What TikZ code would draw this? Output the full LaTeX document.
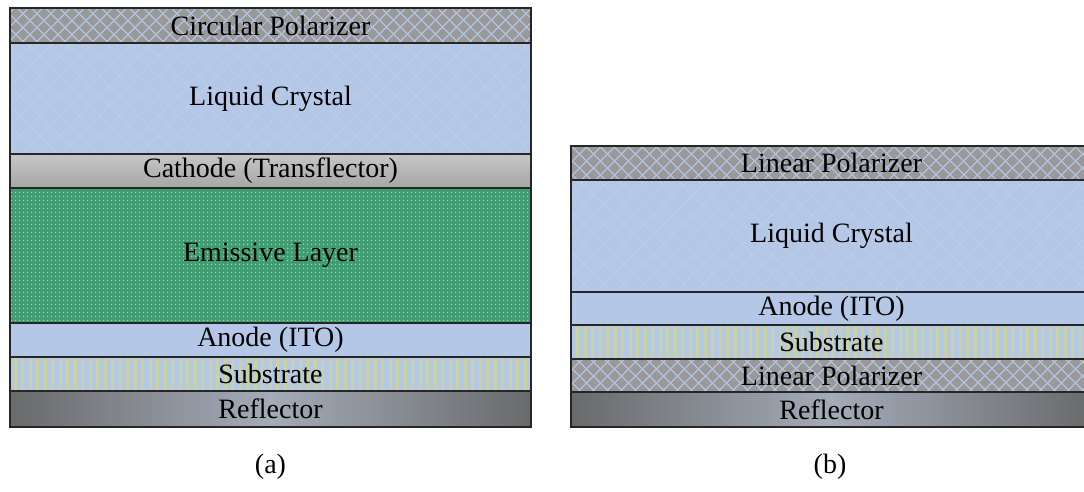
\documentclass[tikz,border=0pt]{standalone}
\usepackage{fontspec}
\setmainfont{Liberation Serif}
\usetikzlibrary{patterns.meta}

\definecolor{lcblue}{HTML}{B4C7E7}
\definecolor{lcline}{HTML}{BDCDEA}
\definecolor{polgray}{HTML}{999999}
\definecolor{polline}{HTML}{B0C0DA}
\definecolor{emgreen}{HTML}{3E9C70}
\definecolor{emdot}{HTML}{96D3B0}
\definecolor{substripe}{HTML}{C9D3A2}
\definecolor{refdark}{HTML}{6A6A6C}
\definecolor{reflight}{HTML}{A3ABB8}

\begin{document}
\begin{tikzpicture}[
  x=1pt, y=-1pt,
  lyr/.style={draw=black!85, line width=1.3pt},
  txt/.style={font=\fontsize{28}{32}\selectfont},
  polar/.style={lyr, preaction={fill=polgray},
    preaction={pattern={Lines[angle=45,distance=10.5pt,line width=1.4pt]}, pattern color=polline},
    preaction={pattern={Lines[angle=-45,distance=10.5pt,line width=1.4pt]}, pattern color=polline}},
  lc/.style={lyr, preaction={fill=lcblue},
    preaction={pattern={Lines[angle=45,distance=14pt,line width=0.8pt]}, pattern color=lcline},
    preaction={pattern={Lines[angle=-45,distance=14pt,line width=0.8pt]}, pattern color=lcline}},
  ito/.style={lyr, fill=lcblue},
  cath/.style={lyr, top color=black!22, bottom color=black!35},
  emis/.style={lyr, preaction={fill=emgreen},
    preaction={pattern={Dots[distance=4pt,radius=1pt]}, pattern color=emdot}},
  subs/.style={lyr, preaction={fill=lcblue},
    preaction={pattern={Lines[angle=90,distance=7.5pt,line width=3pt]}, pattern color=substripe}},
  refl/.style={lyr, left color=refdark, right color=refdark, middle color=reflight},
]
\useasboundingbox (0,0) rectangle (1084,492);

% (a) transflective stack
\draw [polar] (10,8) rectangle (531,43);
\node [txt] (cpolA) at (270.5,25.5) {Circular Polarizer};
\draw [lc] (10,43) rectangle (531,154);
\node [txt] (lcA) at (270.5,98.5) {Liquid Crystal};
\draw [cath] (10,154) rectangle (531,188);
\node [txt] (cathA) at (270.5,171) {Cathode (Transflector)};
\draw [emis] (10,188) rectangle (531,323);
\node [txt] (emisA) at (270.5,255.5) {Emissive Layer};
\draw [ito] (10,323) rectangle (531,357);
\node [txt] (anodeA) at (270.5,340) {Anode (ITO)};
\draw [subs] (10,357) rectangle (531,391);
\node [txt] (subsA) at (270.5,374) {Substrate};
\draw [refl] (10,391) rectangle (531,427);
\node [txt] (reflA) at (270.5,409) {Reflector};
\node [txt] (capA) at (270.5,467) {(a)};

% (b) reference LCD stack
\begin{scope}[shift={(561,0)}]
\draw [polar] (10,146) rectangle (531,180);
\node [txt] (lpolB) at (270.5,163) {Linear Polarizer};
\draw [lc] (10,180) rectangle (531,292);
\node [txt] (lcB) at (270.5,236) {Liquid Crystal};
\draw [ito] (10,292) rectangle (531,325);
\node [txt] (anodeB) at (270.5,308.5) {Anode (ITO)};
\draw [subs] (10,325) rectangle (531,359);
\node [txt] (subsB) at (270.5,342) {Substrate};
\draw [polar] (10,359) rectangle (531,392);
\node [txt] (lpol2B) at (270.5,375.5) {Linear Polarizer};
\draw [refl] (10,392) rectangle (531,427);
\node [txt] (reflB) at (270.5,409.5) {Reflector};
\node [txt] (capB) at (269,467) {(b)};
\end{scope}

\end{tikzpicture}
\end{document}
